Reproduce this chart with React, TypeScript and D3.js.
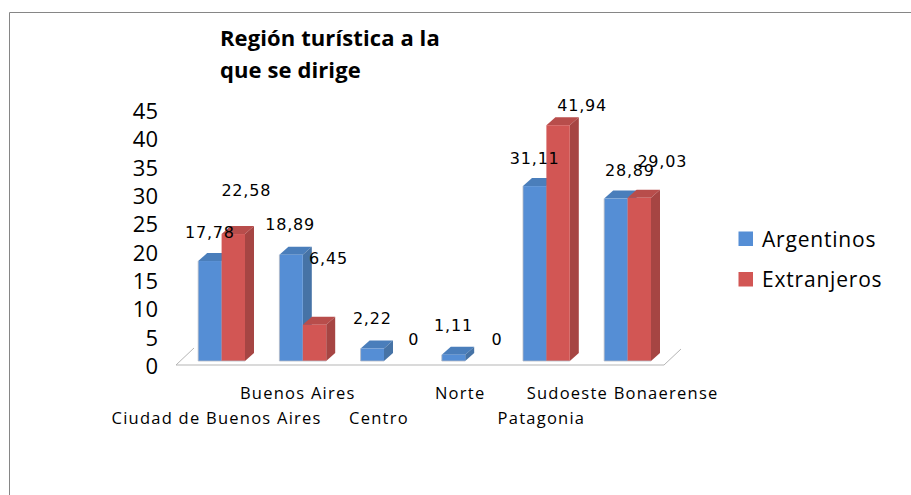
import React from "react";
import * as d3 from "d3";

const categories = ["Ciudad de Buenos Aires", "Buenos Aires", "Centro", "Norte", "Patagonia", "Sudoeste Bonaerense"];
const argentinos = [17.78, 18.89, 2.22, 1.11, 31.11, 28.89];
const extranjeros = [22.58, 6.45, 0, 0, 41.94, 29.03];
const argentinosLabels = ["17,78", "18,89", "2,22", "1,11", "31,11", "28,89"];
const extranjerosLabels = ["22,58", "6,45", "0", "0", "41,94", "29,03"];
const yTicks = [0, 5, 10, 15, 20, 25, 30, 35, 40, 45];
const titleLines = ["Región turística a la", "que se dirige"];
const legendNames = ["Argentinos", "Extranjeros"];

// manual label placement of the original, relative to each bar's top centre
const argLabelOffset = [[0, -28], [-1, -29], [0, -29], [0, -28], [0, -27], [14, -27]];
const extLabelOffset = [[13, -43], [14, -65], [18, -21], [20, -21], [24, -19], [23, -35]];
const catRow = [1, 0, 1, 0, 1, 0];

const font = "'Open Sans', sans-serif";
const labelFont = "'DejaVu Sans', sans-serif";
const colors = {
  blue: "#558ed5", blueTop: "#4a7ebb", blueSide: "#4673a6",
  red: "#d25654", redTop: "#b84d4b", redSide: "#a64543",
};
const DX = 9, DY = 8;

function Bar({ x, w, y0, y1, front, top, side, leftEdge }: any) {
  return (
    <g>
      <polygon points={`${x},${y1} ${x + DX},${y1 - DY} ${x + w + DX},${y1 - DY} ${x + w},${y1}`} fill={top} />
      <polygon points={`${x + w},${y1} ${x + w + DX},${y1 - DY} ${x + w + DX},${y0 - DY} ${x + w},${y0}`} fill={side} />
      <rect x={x} y={y1} width={w} height={y0 - y1} fill={front} />
      <path d={leftEdge ? `M${x},${y1}V${y0}H${x + w}` : `M${x},${y0}H${x + w}`} fill="none" stroke="#b4b9c4" strokeWidth={0.8} />
    </g>
  );
}

export default function App() {
  const x = d3.scaleBand<string>().domain(categories).range([181, 668.2]);
  const y = d3.scaleLinear().domain([0, 45]).range([361, 108]);
  const axisY = d3.scaleLinear().domain([0, 45]).range([368, 113]);
  const step = x.step();
  const w = 23.4;
  const gx = (c: string) => (x(c) as number) + step / 2 - w;

  return (
    <svg width={911} height={495} style={{ position: "absolute", left: 0, top: 0, background: "#fff" }}>
      <path d="M9.5,495V12.5H911" fill="none" stroke="#868686" />
      <g fontFamily={font} fontWeight={700} fontSize={22} letterSpacing={0.1} fill="#000">
        {titleLines.map((t, i) => (
          <text key={t} x={220} y={46 + i * 32}>{t}</text>
        ))}
      </g>
      <path d="M194,348L176,365H664L681,349" fill="none" stroke="#b5b5b5" strokeWidth={1} />
      {yTicks.map((t) => (
        <text key={t} x={158} y={axisY(t)} textAnchor="end" dominantBaseline="middle" fontFamily={font} fontSize={22} fill="#000">{t}</text>
      ))}
      {categories.map((c, i) => (
        <g key={c}>
          {argentinos[i] > 0 && (
            <Bar x={gx(c)} w={w} y0={y(0)} y1={y(argentinos[i])} front={colors.blue} top={colors.blueTop} side={colors.blueSide} leftEdge />
          )}
          {extranjeros[i] > 0 && (
            <Bar x={gx(c) + w} w={w} y0={y(0)} y1={y(extranjeros[i])} front={colors.red} top={colors.redTop} side={colors.redSide} />
          )}
        </g>
      ))}
      <g fontFamily={labelFont} fontSize={16} letterSpacing={0.8} fill="#000" textAnchor="middle" dominantBaseline="middle">
        {categories.map((c, i) => (
          <g key={c}>
            <text x={gx(c) + w / 2 + argLabelOffset[i][0]} y={y(argentinos[i]) + argLabelOffset[i][1]}>{argentinosLabels[i]}</text>
            <text x={gx(c) + w * 1.5 + extLabelOffset[i][0]} y={y(extranjeros[i]) + extLabelOffset[i][1]}>{extranjerosLabels[i]}</text>
          </g>
        ))}
      </g>
      <g fontFamily={font} fontSize={16.5} letterSpacing={1.25} fill="#000" textAnchor="middle" dominantBaseline="middle">
        {categories.map((c, i) => (
          <text key={c} x={gx(c) + w - 5} y={395 + catRow[i] * 25}>{c}</text>
        ))}
      </g>
      {legendNames.map((n, i) => (
        <g key={n}>
          <rect x={738.5} y={231.5 + i * 40.5} width={14.5} height={14.5} fill={i === 0 ? colors.blue : colors.red} />
          <text x={762} y={241 + i * 40} dominantBaseline="middle" fontFamily={font} fontSize={21} letterSpacing={0.8} fill="#000">{n}</text>
        </g>
      ))}
    </svg>
  );
}
